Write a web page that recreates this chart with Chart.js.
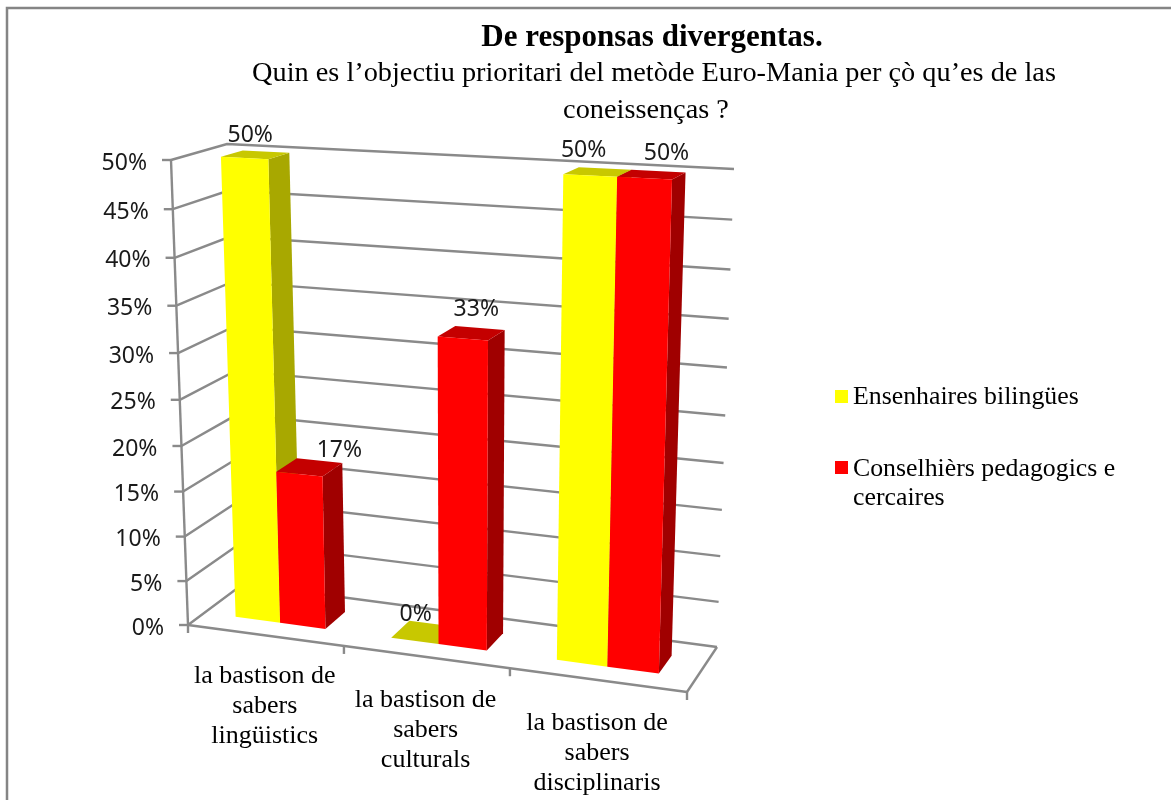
<!DOCTYPE html>
<html>
<head>
<meta charset="utf-8">
<title>De responsas divergentas</title>
<script src="https://cdn.jsdelivr.net/npm/chart.js@4"></script>
<style>
    html, body { margin: 0; padding: 0; background: #ffffff; }
    canvas { display: block; }
</style>
</head>
<body>
<canvas id="chart" width="1171" height="800"></canvas>
<script>
var categories = [
    ['la bastison de', 'sabers', 'lingüistics'],
    ['la bastison de', 'sabers', 'culturals'],
    ['la bastison de', 'sabers', 'disciplinaris']
];
var seriesNames = ['Ensenhaires bilingües', 'Conselhièrs pedagogics e cercaires'];
var teachers = [50, 0, 50];
var advisers = [17, 33, 50];

var titleText = 'De responsas divergentas.';
var subtitleLines = [
    'Quin es l’objectiu prioritari del metòde Euro-Mania per çò qu’es de las',
    'coneissenças ?'
];

var serif = '"Liberation Serif", serif';
var sans = '"Noto Sans", sans-serif';
var gridColor = '#8a8a8a';
var faces = [
    { front: '#ffff00', side: '#a8a800', top: '#c8c800' },
    { front: '#ff0000', side: '#a00000', top: '#c40000' }
];

// corners of the 3D box as seen in the picture, [x, y]
var box = {
    fbl: [188, 625], ftl: [171, 160], fbr: [687, 692], ftr: [702, 187],
    bbl: [243, 584], btl: [227, 144], bbr: [717, 647], btr: [734, 169]
};
// foreshortening along the category axis and up the value axis
var perspectiveU = 1.1;
var perspectiveV = 1.065;
var barDepth = [0.3, 0.7];
// hand nudges for the value labels, relative to the top of each bar
var labelNudge = [
    [[-5, -19], [30, -17]],
    [[-8, -18], [5, -24]],
    [[-14, -22], [15, -21]]
];
var categoryDrop = [41, 43, 43];

function mix(a, b, t) {
    return [a[0] + (b[0] - a[0]) * t, a[1] + (b[1] - a[1]) * t];
}

// u along categories, v up the value axis, d from front to back, all 0..1
function project(u, v, d) {
    var t = u / (u + (1 - u) * perspectiveU);
    var h = v / (v + (1 - v) * perspectiveV);
    var front = mix(mix(box.fbl, box.fbr, t), mix(box.ftl, box.ftr, t), h);
    var back = mix(mix(box.bbl, box.bbr, t), mix(box.btl, box.btr, t), h);
    return mix(front, back, d);
}

function line(ctx, a, b) {
    ctx.beginPath();
    ctx.moveTo(a[0], a[1]);
    ctx.lineTo(b[0], b[1]);
    ctx.stroke();
}

function polygon(ctx, points, color) {
    ctx.fillStyle = color;
    ctx.beginPath();
    points.forEach(function (p, i) {
        if (i === 0) { ctx.moveTo(p[0], p[1]); } else { ctx.lineTo(p[0], p[1]); }
    });
    ctx.closePath();
    ctx.fill();
}

function drawCentered(ctx, text, x, y, font, color) {
    ctx.font = font;
    ctx.fillStyle = color || '#000000';
    ctx.textAlign = 'center';
    ctx.textBaseline = 'middle';
    ctx.fillText(text, x, y);
}

var threeDee = {
    id: 'threeDee',

    beforeDatasetsDraw: function (chart) {
        var ctx = chart.ctx;
        var area = chart.chartArea;
        var xScale = chart.scales.x;
        var yScale = chart.scales.y;
        var toU = function (px) { return (px - area.left) / (area.right - area.left); };
        var toV = function (py) { return (area.bottom - py) / (area.bottom - area.top); };

        ctx.save();

        // frame of the original picture
        ctx.strokeStyle = '#858585';
        ctx.lineWidth = 2.5;
        ctx.beginPath();
        ctx.moveTo(7, 800);
        ctx.lineTo(7, 8);
        ctx.lineTo(1171, 8);
        ctx.stroke();

        // walls and value axis
        ctx.strokeStyle = gridColor;
        ctx.lineWidth = 2.4;
        yScale.ticks.forEach(function (tick) {
            var v = toV(yScale.getPixelForValue(tick.value));
            var a = project(0, v, 0);
            var b = project(0, v, 1);
            var c = project(1, v, 1);
            ctx.beginPath();
            ctx.moveTo(a[0], a[1]);
            ctx.lineTo(b[0], b[1]);
            ctx.lineTo(c[0], c[1]);
            ctx.stroke();
            line(ctx, [a[0] - 9, a[1]], a);

            ctx.font = '23px ' + sans;
            ctx.fillStyle = '#1a1a1a';
            ctx.textAlign = 'right';
            ctx.textBaseline = 'middle';
            ctx.fillText(tick.label, a[0] - 24, a[1] + 3);
        });
        line(ctx, project(0, 0, 0), project(0, 1, 0));

        // floor
        line(ctx, project(0, 0, 0), project(1, 0, 0));
        line(ctx, project(1, 0, 0), project(1, 0, 1));
        for (var i = 0; i <= categories.length; i++) {
            var p = project(i / categories.length, 0, 0);
            line(ctx, p, [p[0], p[1] + 8]);
        }

        // bars, left to right so each one covers the side of the one before
        var labels = [];
        categories.forEach(function (category, c) {
            chart.data.datasets.forEach(function (dataset, s) {
                var bar = chart.getDatasetMeta(s).data[c];
                var props = bar.getProps(['x', 'y', 'width']);
                var u0 = toU(props.x - props.width / 2);
                var u1 = toU(props.x + props.width / 2);
                var v = toV(props.y);
                var d0 = barDepth[0];
                var d1 = barDepth[1];
                var colors = faces[s];

                if (v > 0) {
                    polygon(ctx, [project(u1, 0, d0), project(u1, 0, d1), project(u1, v, d1), project(u1, v, d0)], colors.side);
                }
                polygon(ctx, [project(u0, v, d0), project(u1, v, d0), project(u1, v, d1), project(u0, v, d1)], colors.top);
                if (v > 0) {
                    polygon(ctx, [project(u0, 0, d0), project(u1, 0, d0), project(u1, v, d0), project(u0, v, d0)], colors.front);
                }

                var anchor = project((u0 + u1) / 2, v, 0.5);
                labels.push({
                    text: dataset.data[c] + '%',
                    x: anchor[0] + labelNudge[c][s][0],
                    y: anchor[1] + labelNudge[c][s][1]
                });
            });
        });

        labels.forEach(function (label) {
            drawCentered(ctx, label.text, label.x, label.y, '23px ' + sans, '#1a1a1a');
        });

        // category labels hang below the slanted floor edge
        categories.forEach(function (lines, c) {
            var mid = project(toU(xScale.getPixelForTick(c)), 0, 0);
            lines.forEach(function (text, n) {
                drawCentered(ctx, text, mid[0], mid[1] + categoryDrop[c] + n * 30, '26px ' + serif);
            });
        });

        // title
        drawCentered(ctx, titleText, 652, 38, 'bold 31px ' + serif);
        drawCentered(ctx, subtitleLines[0], 654, 74, '28.3px ' + serif);
        drawCentered(ctx, subtitleLines[1], 646, 111, '28.3px ' + serif);

        // legend
        ctx.textAlign = 'left';
        ctx.textBaseline = 'middle';
        ctx.font = '25.8px ' + serif;
        ctx.fillStyle = faces[0].front;
        ctx.fillRect(835, 390, 13, 13);
        ctx.fillStyle = faces[1].front;
        ctx.fillRect(835, 461, 13, 13);
        ctx.fillStyle = '#000000';
        ctx.fillText(seriesNames[0], 853, 397);
        ctx.fillText('Conselhièrs pedagogics e', 853, 469);
        ctx.fillText('cercaires', 853, 498);

        ctx.restore();

        // everything is painted above, skip the flat bars
        return false;
    }
};

new Chart(document.getElementById('chart').getContext('2d'), {
    type: 'bar',
    data: {
        labels: categories,
        datasets: [
            { label: seriesNames[0], data: teachers, backgroundColor: faces[0].front },
            { label: seriesNames[1], data: advisers, backgroundColor: faces[1].front }
        ]
    },
    options: {
        responsive: false,
        animation: false,
        layout: { padding: { left: 188, top: 160, right: 450, bottom: 160 } },
        datasets: { bar: { barPercentage: 1, categoryPercentage: 0.585 } },
        plugins: {
            legend: { display: false },
            title: { display: false },
            tooltip: { enabled: false }
        },
        scales: {
            x: { display: false },
            y: {
                display: false,
                min: 0,
                max: 50,
                ticks: {
                    stepSize: 5,
                    callback: function (value) { return value + '%'; }
                }
            }
        }
    },
    plugins: [threeDee]
});
</script>
</body>
</html>
